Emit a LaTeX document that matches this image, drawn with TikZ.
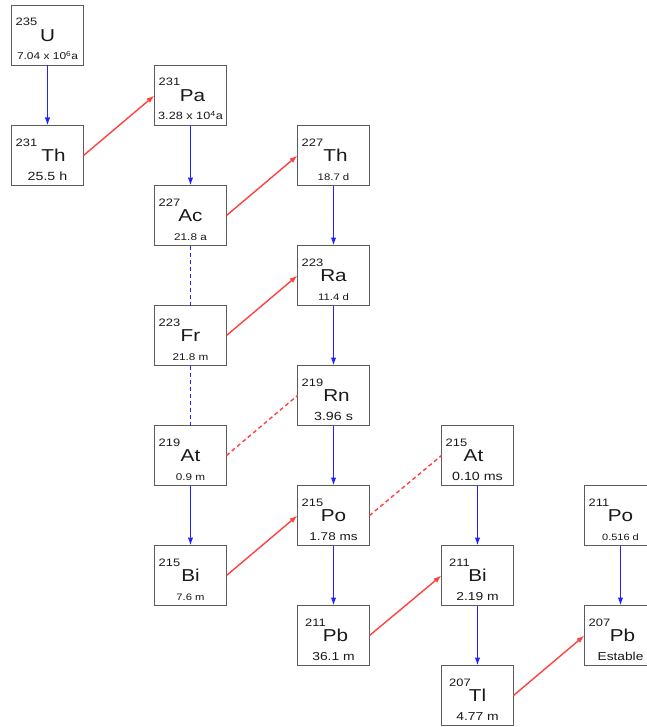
\documentclass[tikz,border=0pt]{standalone}
\usepackage{fontspec}
\newfontfamily\diagfont[FakeStretch=1.2]{Liberation Sans}
\usetikzlibrary{arrows.meta}

\definecolor{boxline}{RGB}{92,92,92}
\definecolor{textdark}{RGB}{25,25,25}
\definecolor{alphablue}{RGB}{35,35,255}
\definecolor{betared}{RGB}{255,65,65}

\tikzset{
  nucbox/.style={draw=boxline, line width=1.5bp, minimum width=72bp,
    minimum height=60bp, inner sep=0pt, outer sep=0pt},
  massno/.style={anchor=base west, inner sep=0pt, text=textdark,
    font=\diagfont\fontsize{10.8}{10.8}\selectfont},
  symb/.style={anchor=base, inner sep=0pt, text=textdark},
  halflife/.style={anchor=base, inner sep=0pt, text=textdark},
  alphadecay/.style={draw=alphablue, line width=1.4bp,
    -{Latex[length=8bp,width=5.5bp]}},
  alphalink/.style={draw=alphablue, line width=1.4bp,
    dash pattern=on 4bp off 3bp},
  betadecay/.style={draw=betared, line width=1.4bp,
    -{Latex[length=8bp,width=5.5bp]}},
  betalink/.style={draw=betared, line width=1.4bp,
    dash pattern=on 4bp off 3bp},
}

% #1 name, #2 centre x, #3 row, #4 mass number, #5 symbol,
% #6 half-life, #7 half-life size, #8 symbol x-shift, #9 mass x-offset
\newcommand\isobox[9]{%
  \node[nucbox] (#1) at (#2,{35.5+60*#3}) {};
  \node[massno] (#1-m) at ([shift={(#9,20.5)}]#1.north west) {#4};
  \node[symb, font=\diagfont\fontsize{17.3}{17.3}\selectfont]
    (#1-s) at ([shift={(#8,36)}]#1.north) {#5};
  \node[halflife, font=\diagfont\fontsize{#7}{#7}\selectfont]
    (#1-h) at ([shift={(0,54.5)}]#1.north) {#6};
}

\begin{document}
\begin{tikzpicture}[x=1bp,y=-1bp]
  \useasboundingbox (0,0) rectangle (647,727);
  \fill[white] (0,0) rectangle (647,727);
  \clip (0,0) rectangle (647,727);

  % column 1
  \isobox{U235}{47.5}{0}{235}{U}{7.04 x 10\textsuperscript{6}a}{10}{0}{4}
  \isobox{Th231}{47.5}{2}{231}{Th}{25.5 h}{11.9}{6}{4}
  % column 2
  \isobox{Pa231}{190.5}{1}{231}{Pa}{3.28 x 10\textsuperscript{4}a}{10.6}{2}{4}
  \isobox{Ac227}{190.5}{3}{227}{Ac}{21.8 a}{9.8}{0}{4}
  \isobox{Fr223}{190.5}{5}{223}{Fr}{21.8 m}{9.8}{0}{4}
  \isobox{At219}{190.5}{7}{219}{At}{0.9 m}{9.8}{0}{4}
  \isobox{Bi215}{190.5}{9}{215}{Bi}{7.6 m}{9.4}{0}{4}
  % column 3
  \isobox{Th227}{333.5}{2}{227}{Th}{18.7 d}{9.5}{2}{4}
  \isobox{Ra223}{333.5}{4}{223}{Ra}{11.4 d}{9.5}{0}{4}
  \isobox{Rn219}{333.5}{6}{219}{Rn}{3.96 s}{11.9}{3}{4}
  \isobox{Po215}{333.5}{8}{215}{Po}{1.78 ms}{11.3}{0}{4}
  \isobox{Pb211}{333.5}{10}{211}{Pb}{36.1 m}{11.6}{2}{7.5}
  % column 4
  \isobox{At215}{477.5}{7}{215}{At}{0.10 ms}{11.9}{-4}{4}
  \isobox{Bi211}{477.5}{9}{211}{Bi}{2.19 m}{11.6}{0}{7.5}
  \isobox{Tl207}{477.5}{11}{207}{Tl}{4.77 m}{11.6}{0}{7.5}
  % column 5
  \isobox{Po211}{620.5}{8}{211}{Po}{0.516 d}{9.2}{0}{4}
  \isobox{Pb207}{620.5}{10}{207}{Pb}{Estable}{11.5}{2}{4}

  % alpha decays
  \draw[alphadecay] (U235) -- (Th231);
  \draw[alphadecay] (Pa231) -- (Ac227);
  \draw[alphalink] (Ac227) -- (Fr223);
  \draw[alphalink] (Fr223) -- (At219);
  \draw[alphadecay] (At219) -- (Bi215);
  \draw[alphadecay] (Th227) -- (Ra223);
  \draw[alphadecay] (Ra223) -- (Rn219);
  \draw[alphadecay] (Rn219) -- (Po215);
  \draw[alphadecay] (Po215) -- (Pb211);
  \draw[alphadecay] (At215) -- (Bi211);
  \draw[alphadecay] (Bi211) -- (Tl207);
  \draw[alphadecay] (Po211) -- (Pb207);

  % beta decays
  \draw[betadecay] (Th231.east) -- (Pa231.west);
  \draw[betadecay] (Ac227.east) -- (Th227.west);
  \draw[betadecay] (Fr223.east) -- (Ra223.west);
  \draw[betalink] (At219.east) -- (Rn219.west);
  \draw[betadecay] (Bi215.east) -- (Po215.west);
  \draw[betalink] (Po215.east) -- (At215.west);
  \draw[betadecay] (Pb211.east) -- (Bi211.west);
  \draw[betadecay] (Tl207.east) -- (Pb207.west);
\end{tikzpicture}
\end{document}
